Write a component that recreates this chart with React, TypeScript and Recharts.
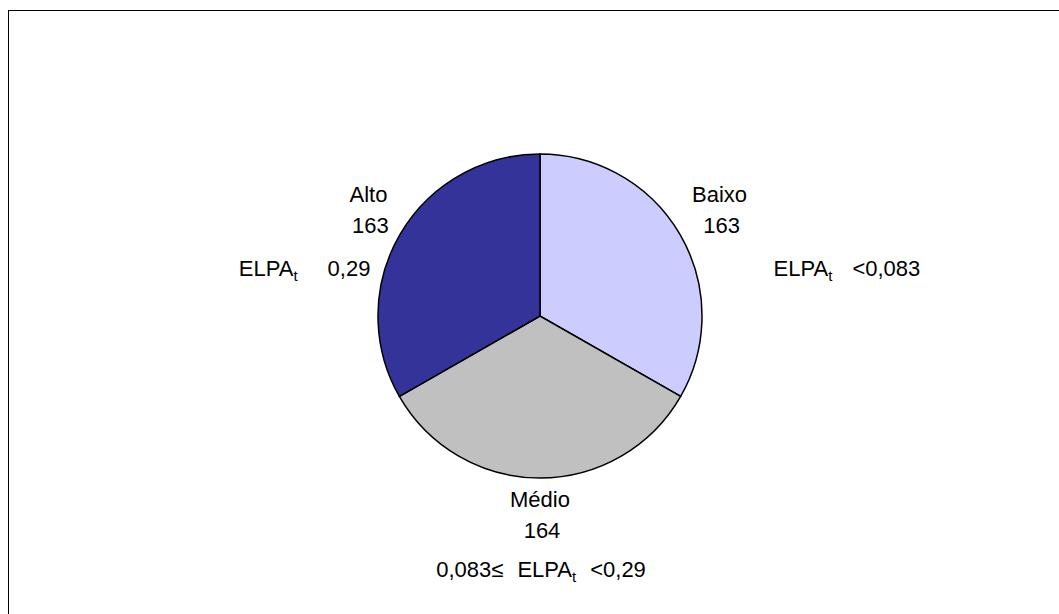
import { PieChart, Pie, Cell } from 'recharts';

// Class sizes by ELPA_t level
const categories = ['Baixo', 'Médio', 'Alto'];
const counts = [163, 164, 163];
const sliceColors = ['#CCCCFF', '#C0C0C0', '#333399'];

// Range descriptions drawn under each label: text before "ELPA", after the subscript
const rangePrefix = ['', '0,083≤ ', ''];
const rangeSuffix = ['<0,083', '<0,29', '0,29'];

const data = categories.map((name, i) => ({ name, value: counts[i] }));

const FONT = '"Liberation Sans", Arial, sans-serif';
const LABEL_RADIUS = 203;

function RangeText({ x, y, anchor, prefix, suffix, gap }: {
  x: number; y: number; anchor: 'start' | 'middle' | 'end'; prefix: string; suffix: string; gap: number;
}) {
  return (
    <text x={x} y={y} textAnchor={anchor} fontSize={22} fontFamily={FONT} fill="#000">
      {prefix ? <tspan>{prefix}</tspan> : null}
      <tspan dx={prefix ? 8 : 0}>ELPA</tspan>
      <tspan fontSize={15} dy={5}>t</tspan>
      <tspan dx={gap} dy={-5}>{suffix}</tspan>
    </text>
  );
}

const renderLabel = (props: any) => {
  const { cx, cy, midAngle, index } = props;
  const RADIAN = Math.PI / 180;
  const x = cx + LABEL_RADIUS * Math.cos(-midAngle * RADIAN);
  const y = cy + LABEL_RADIUS * Math.sin(-midAngle * RADIAN);
  const side = Math.abs(x - cx) < 20 ? 'bottom' : x > cx ? 'right' : 'left';
  const nx = side === 'bottom' ? x : x + 4;

  let range;
  if (side === 'right') {
    range = <RangeText x={x + 58} y={y + 62} anchor="start" prefix={rangePrefix[index]} suffix={rangeSuffix[index]} gap={20} />;
  } else if (side === 'left') {
    range = <RangeText x={x + 6} y={y + 62} anchor="end" prefix={rangePrefix[index]} suffix={rangeSuffix[index]} gap={30} />;
  } else {
    range = <RangeText x={x + 1} y={y + 58} anchor="middle" prefix={rangePrefix[index]} suffix={rangeSuffix[index]} gap={14} />;
  }

  return (
    <g key={`label-${index}`}>
      <text x={nx} y={y - 12} textAnchor="middle" fontSize={22} fontFamily={FONT} fill="#000">
        {categories[index]}
      </text>
      <text x={nx + 2} y={y + 19} textAnchor="middle" fontSize={22} fontFamily={FONT} fill="#000">
        {counts[index]}
      </text>
      {range}
    </g>
  );
};

export default function App() {
  return (
    <div style={{ position: 'absolute', left: 0, top: 0, width: 1059, height: 614, overflow: 'hidden', background: '#fff' }}>
      <div
        style={{
          position: 'absolute',
          left: 8,
          top: 10,
          width: 1051,
          height: 604,
          boxSizing: 'border-box',
          borderTop: '1.5px solid #000',
          borderLeft: '1.5px solid #000',
        }}
      />
      <div style={{ position: 'absolute', left: 0, top: 0 }}>
        <PieChart width={1059} height={614} margin={{ top: 0, right: 0, bottom: 0, left: 0 }}>
          <Pie
            data={data}
            dataKey="value"
            nameKey="name"
            cx={540}
            cy={316}
            outerRadius={162}
            startAngle={90}
            endAngle={-270}
            stroke="#000"
            strokeWidth={1.5}
            labelLine={false}
            label={renderLabel}
            isAnimationActive={false}
          >
            {data.map((entry, index) => (
              <Cell key={`cell-${index}`} fill={sliceColors[index]} />
            ))}
          </Pie>
        </PieChart>
      </div>
    </div>
  );
}
